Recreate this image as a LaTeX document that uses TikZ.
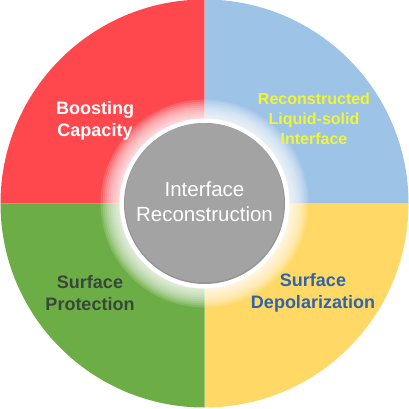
\documentclass[tikz,border=0pt]{standalone}
\usepackage{fontspec}
\setmainfont{Liberation Sans}
\definecolor{qred}{HTML}{FF474E}
\definecolor{qblue}{HTML}{9DC3E6}
\definecolor{qyellow}{HTML}{FFD865}
\definecolor{qgreen}{HTML}{6DAD46}
\definecolor{tdark}{HTML}{38473A}
\definecolor{tblue}{HTML}{3064A8}
\definecolor{tyellow}{HTML}{F2F534}
\definecolor{cgray}{HTML}{A3A3A3}
\definecolor{cgrayrim}{HTML}{969696}
\begin{document}
\begin{tikzpicture}[x=1pt,y=1pt,
  qlabel/.style={align=center,font=\bfseries\fontsize{18}{22.5}\selectfont},
  clabel/.style={align=center,text=white,font=\fontsize{20.5}{25}\selectfont}]
\useasboundingbox (0,0) rectangle (409,408);
\coordinate (c) at (204.5,204.5);
\def\R{204}
% quadrants
\fill[qred] (c) -- ++(180:\R) arc (180:90:\R) -- cycle;
\fill[qblue] (c) -- ++(90:\R) arc (90:0:\R) -- cycle;
\fill[qyellow] (c) -- ++(0:\R) arc (0:-90:\R) -- cycle;
\fill[qgreen] (c) -- ++(270:\R) arc (270:180:\R) -- cycle;
% white glow
\foreach \r in {104,102,...,84} {
  \fill[white, opacity=0.15] (c) circle (\r);
}
\fill[white] (c) circle (85);
% gray disc
\fill[cgrayrim] (c) circle (80.5);
\fill[cgray] ([yshift=0.8]c) circle (79.5);
\node[clabel] (center) at (204.5,206) {Interface\\Reconstruction};
\node[qlabel, text=white] (boost) at (95,287) {Boosting\\Capacity};
\node[qlabel, text=tyellow, font=\bfseries\fontsize{16}{20}\selectfont] (recon) at (314,289) {Reconstructed\\Liquid-solid\\Interface};
\node[qlabel, text=tdark] (prot) at (90,115) {Surface\\Protection};
\node[qlabel, text=tblue] (depol) at (313,115) {Surface\\Depolarization};
\end{tikzpicture}
\end{document}
